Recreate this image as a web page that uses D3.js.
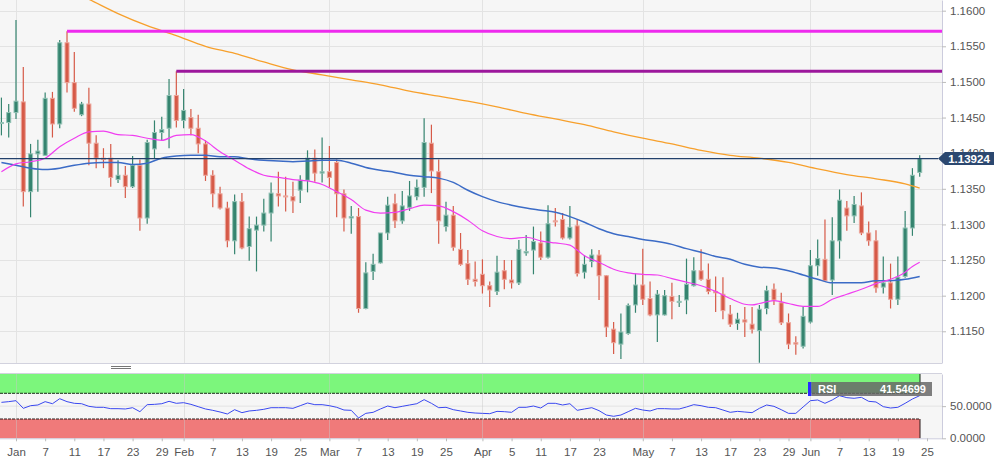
<!DOCTYPE html>
<html lang="en">
<head>
<meta charset="UTF-8">
<title>EUR/USD daily</title>
<script src="https://d3js.org/d3.v7.min.js"></script>
<style>
  body { margin: 0; background: #fff; font-family: "Liberation Sans", Arial, sans-serif; }
  svg { display: block; }
  .axis text { fill: #555; font-size: 11.5px; font-family: "Liberation Sans", Arial, sans-serif; }
  .axis line { stroke: #bbb; }
  .axis path { stroke: #ccd; }
</style>
</head>
<body>
<svg id="chart" width="1002" height="463"></svg>
<script>
// bar index 0 = 1 Jan, trading days only
const firstBar = -2;

// [open, high, low, close]
const candles = [
  [1.1442,1.1478,1.1425,1.1443],[1.1443,1.1469,1.1422,1.1457],[1.1457,1.1587,1.1448,1.1473],
  [1.1472,1.1521,1.1325,1.1346],[1.1346,1.1413,1.1310,1.1399],[1.1399,1.1419,1.1346,1.1403],
  [1.1397,1.1485,1.1397,1.1477],[1.1477,1.1486,1.1422,1.1441],[1.1441,1.1559,1.1435,1.1555],
  [1.1555,1.1571,1.1485,1.1499],[1.1499,1.1542,1.1458,1.1463],[1.1454,1.1472,1.1452,1.1469],
  [1.1469,1.1492,1.1383,1.1414],[1.1414,1.1425,1.1379,1.1393],[1.1393,1.1407,1.1379,1.1391],
  [1.1393,1.1413,1.1353,1.1366],[1.1363,1.1390,1.1358,1.1369],[1.1369,1.1382,1.1337,1.1353],
  [1.1353,1.1396,1.1351,1.1383],[1.1383,1.1391,1.1291,1.1309],[1.1309,1.1419,1.1301,1.1415],
  [1.1406,1.1446,1.1393,1.1429],[1.1429,1.1451,1.1418,1.1433],[1.1435,1.1504,1.1407,1.1481],
  [1.1481,1.1515,1.1436,1.1446],[1.1446,1.1490,1.1435,1.1460],[1.1450,1.1462,1.1425,1.1435],
  [1.1435,1.1454,1.1400,1.1413],[1.1413,1.1418,1.1361,1.1369],[1.1369,1.1376,1.1324,1.1343],
  [1.1343,1.1353,1.1321,1.1323],[1.1323,1.1332,1.1268,1.1277],[1.1277,1.1342,1.1258,1.1332],
  [1.1332,1.1344,1.1265,1.1267],[1.1269,1.1311,1.1249,1.1294],[1.1292,1.1311,1.1234,1.1299],
  [1.1299,1.1336,1.1290,1.1316],[1.1316,1.1359,1.1276,1.1344],[1.1343,1.1374,1.1325,1.1340],
  [1.1340,1.1367,1.1318,1.1339],[1.1339,1.1360,1.1316,1.1333],[1.1348,1.1369,1.1330,1.1362],
  [1.1362,1.1404,1.1345,1.1393],[1.1393,1.1405,1.1360,1.1372],[1.1372,1.1422,1.1359,1.1374],
  [1.1374,1.1410,1.1352,1.1366],[1.1387,1.1391,1.1310,1.1343],[1.1343,1.1349,1.1290,1.1309],
  [1.1309,1.1326,1.1287,1.1311],[1.1311,1.1323,1.1176,1.1182],[1.1182,1.1247,1.1181,1.1232],
  [1.1234,1.1259,1.1222,1.1244],[1.1246,1.1288,1.1245,1.1288],[1.1288,1.1339,1.1278,1.1327],
  [1.1329,1.1343,1.1295,1.1305],[1.1305,1.1347,1.1301,1.1326],[1.1324,1.1361,1.1319,1.1340],
  [1.1339,1.1363,1.1334,1.1352],[1.1352,1.1449,1.1339,1.1415],[1.1414,1.1440,1.1344,1.1375],
  [1.1374,1.1391,1.1273,1.1305],[1.1297,1.1332,1.1290,1.1313],[1.1313,1.1326,1.1263,1.1268],
  [1.1265,1.1288,1.1242,1.1244],[1.1245,1.1264,1.1215,1.1223],[1.1223,1.1248,1.1213,1.1220],
  [1.1230,1.1251,1.1203,1.1214],[1.1214,1.1220,1.1184,1.1208],[1.1206,1.1256,1.1201,1.1233],
  [1.1235,1.1250,1.1209,1.1223],[1.1222,1.1250,1.1210,1.1218],[1.1218,1.1278,1.1215,1.1265],
  [1.1260,1.1285,1.1256,1.1262],[1.1264,1.1297,1.1230,1.1276],[1.1274,1.1290,1.1250,1.1254],
  [1.1254,1.1327,1.1252,1.1301],[1.1305,1.1323,1.1297,1.1304],[1.1307,1.1316,1.1279,1.1281],
  [1.1281,1.1326,1.1279,1.1296],[1.1298,1.1307,1.1227,1.1231],[1.1233,1.1257,1.1224,1.1244],
  [1.1248,1.1265,1.1240,1.1257],[1.1257,1.1264,1.1194,1.1228],[1.1228,1.1229,1.1142,1.1156],
  [1.1153,1.1163,1.1118,1.1134],[1.1132,1.1175,1.1111,1.1149],[1.1147,1.1189,1.1145,1.1186],
  [1.1187,1.1231,1.1176,1.1215],[1.1215,1.1266,1.1187,1.1195],[1.1196,1.1220,1.1171,1.1173],
  [1.1173,1.1208,1.1135,1.1202],[1.1173,1.1208,1.1172,1.1200],[1.1199,1.1218,1.1167,1.1192],
  [1.1191,1.1201,1.1184,1.1192],[1.1194,1.1252,1.1174,1.1216],[1.1214,1.1254,1.1213,1.1235],
  [1.1235,1.1265,1.1221,1.1223],[1.1223,1.1245,1.1202,1.1206],[1.1206,1.1227,1.1177,1.1204],
  [1.1202,1.1226,1.1167,1.1179],[1.1174,1.1187,1.1156,1.1160],[1.1161,1.1176,1.1152,1.1167],
  [1.1166,1.1184,1.1142,1.1163],[1.1160,1.1184,1.1147,1.1153],[1.1151,1.1187,1.1106,1.1181],
  [1.1182,1.1214,1.1174,1.1207],[1.1209,1.1217,1.1187,1.1194],[1.1190,1.1204,1.1159,1.1162],
  [1.1162,1.1175,1.1125,1.1132],[1.1134,1.1143,1.1117,1.1132],[1.1129,1.1184,1.1126,1.1171],
  [1.1163,1.1264,1.1161,1.1242],[1.1242,1.1279,1.1228,1.1252],[1.1251,1.1307,1.1220,1.1221],
  [1.1222,1.1310,1.1201,1.1277],[1.1277,1.1349,1.1252,1.1334],[1.1323,1.1333,1.1291,1.1312],
  [1.1312,1.1340,1.1302,1.1328],[1.1326,1.1345,1.1285,1.1288],[1.1288,1.1304,1.1270,1.1277],
  [1.1277,1.1292,1.1204,1.1211],[1.1212,1.1255,1.1203,1.1218],[1.1218,1.1245,1.1182,1.1195],
  [1.1195,1.1255,1.1187,1.1226],[1.1227,1.1319,1.1225,1.1295],[1.1295,1.1379,1.1284,1.1369],
  [1.1373,1.1397,1.1367,1.13924]
];

// moving averages, [bar index, value]
const sma200 = [[-2,1.1671],[4,1.1644],[10,1.1616],[14,1.1596],[18,1.1579],[22,1.1565],[26,1.1550],
  [30,1.1540],[34,1.1528],[38,1.1517],[42,1.1510],[46,1.1503],[50,1.1496],[54,1.1487],[58,1.1480],
  [62,1.1473],[66,1.1465],[70,1.1456],[74,1.1448],[78,1.1440],[82,1.1430],[86,1.1421],[90,1.1413],
  [94,1.1404],[98,1.1397],[102,1.1393],[106,1.1387],[110,1.1378],[114,1.1370],[118,1.1364],
  [122,1.1357],[124,1.1351]];

const sma20 = [[-2,1.1374],[0,1.1385],[2,1.1388],[4,1.1393],[6,1.1409],[8,1.1421],[10,1.1430],
  [12,1.1431],[14,1.1426],[16,1.1425],[18,1.1421],[20,1.1418],[22,1.1425],[24,1.1426],[26,1.1417],
  [28,1.1402],[30,1.1390],[32,1.1378],[34,1.1369],[36,1.1366],[38,1.1363],[40,1.1361],[42,1.1356],
  [44,1.1346],[46,1.1335],[48,1.1320],[50,1.1316],[52,1.1317],[54,1.1322],[56,1.1327],[58,1.1326],
  [60,1.1318],[62,1.1306],[64,1.1291],[66,1.1283],[68,1.1280],[70,1.1282],[72,1.1277],[74,1.1274],
  [76,1.1271],[77,1.1264],[78,1.1256],[80,1.1247],[82,1.1237],[84,1.1232],[86,1.1230],[88,1.1229],
  [90,1.1224],[92,1.1219],[94,1.1214],[96,1.1206],[98,1.1196],[100,1.1188],[101,1.1187],[102,1.1189],
  [104,1.1193],[106,1.1189],[108,1.1185],[110,1.1185],[112,1.1195],[114,1.1202],[116,1.1209],
  [118,1.1217],[120,1.1223],[122,1.1233],[123,1.1241],[124,1.1247]];

const sma50 = [[-2,1.1387],[0,1.1383],[2,1.1379],[4,1.1377],[6,1.1379],[8,1.1383],[10,1.1386],
  [12,1.1387],[14,1.1387],[16,1.1384],[18,1.1386],[20,1.1393],[22,1.1396],[24,1.1397],[26,1.1397],
  [28,1.1395],[30,1.1395],[32,1.1392],[34,1.1390],[36,1.1389],[38,1.1388],[40,1.1389],[42,1.1390],
  [44,1.1390],[46,1.1386],[48,1.1380],[50,1.1376],[52,1.1373],[54,1.1369],[56,1.1367],[58,1.1365],
  [60,1.1359],[62,1.1348],[64,1.1339],[66,1.1332],[68,1.1327],[70,1.1323],[72,1.1320],[74,1.1317],
  [76,1.1311],[78,1.1303],[80,1.1294],[82,1.1287],[84,1.1283],[86,1.1279],[88,1.1276],[90,1.1272],
  [92,1.1266],[94,1.1261],[96,1.1255],[98,1.1251],[100,1.1244],[102,1.1240],[104,1.1239],[106,1.1235],
  [108,1.1229],[110,1.1223],[112,1.1218],[114,1.1218],[116,1.1218],[118,1.1221],[120,1.1221],
  [122,1.1223],[124,1.1227]];

// horizontal levels: [start bar, price, colour]
const levels = [[7, 1.1571, '#ee2bee'], [22, 1.1515, '#9c179c']];

const lastPrice = 1.13924;
const rsiLabel = '41.54699';

// RSI(14), one per bar from firstBar
const rsi = [55.9,57.0,58.5,46.6,50.7,51.8,57.0,53.8,61.6,57.0,
  54.4,53.8,49.7,48.2,48.2,46.1,46.1,45.6,47.6,41.4,
  52.3,52.8,53.8,57.5,54.4,55.4,52.8,49.2,45.6,43.5,
  40.9,37.8,44.5,39.9,42.5,43.5,45.1,47.6,47.6,47.6,
  46.6,50.7,54.9,52.3,52.3,50.7,48.2,44.0,43.5,31.6,
  38.8,40.4,45.6,50.2,47.6,49.7,51.8,53.8,60.1,54.4,
  47.6,48.2,44.5,42.5,40.4,39.3,38.8,38.3,41.9,41.4,
  40.4,48.2,48.2,50.2,47.1,54.4,54.4,51.8,53.8,43.5,
  45.6,47.6,43.0,36.2,34.2,36.2,41.4,46.6,44.0,42.5,
  46.1,46.1,45.6,45.6,48.7,52.3,50.7,48.2,47.6,44.0,
  40.4,41.9,40.9,39.9,46.6,51.8,49.7,44.5,38.8,38.8,
  48.7,58.5,59.6,54.4,59.6,66.3,63.2,62.2,63.7,57.5,
  56.5,49.2,47.1,48.2,54.4,61.1,66.3];

const priceTicks = [1.1150,1.1200,1.1250,1.1300,1.1350,1.1400,1.1450,1.1500,1.1550,1.1600];
const rsiTicks = [0, 50];
const dateTickBars = [0,4,8,12,16,20,23,27,31,35,39,43,47,51,55,59,64,68,72,76,80,86,90,94,98,102,106,109,113,117,121,125];
const dateTickLabels = ['Jan','7','11','17','23','29','Feb','7','13','19','25','Mar','7','13','19','25','Apr','5','11','17','23','May','7','13','17','23','29','Jun','7','13','19','25'];
const monthBars = [0, 23, 43, 64, 86, 109];

// layout
const plotRight = 942, mainTop = 0, mainBottom = 363, rsiTop = 374, rsiBottom = 438.3;
const bandEnd = 920;
const upColor = '#35846f', downColor = '#d65a48';
const upEdge = '#93c2b5', downEdge = '#eca79c';

const svg = d3.select('#chart');

const x = d3.scaleLinear().domain([0, 125]).range([16, 927]);
const y = d3.scaleLinear().domain([1.11055, 1.1615]).range([mainBottom, mainTop]);
const yR = d3.scaleLinear().domain([0, 100]).range([rsiBottom, rsiTop]);

const defs = svg.append('defs');
defs.append('clipPath').attr('id', 'clip-main')
  .append('rect').attr('x', 0).attr('y', mainTop).attr('width', plotRight).attr('height', mainBottom - mainTop);

// ---- main panel ----
svg.append('rect').attr('x', 0).attr('y', mainTop).attr('width', plotRight).attr('height', mainBottom - mainTop)
  .attr('fill', '#f6f6f6');

svg.append('g').selectAll('line').data(priceTicks).join('line')
  .attr('x1', 0).attr('x2', plotRight)
  .attr('y1', d => Math.round(y(d)) + 0.5).attr('y2', d => Math.round(y(d)) + 0.5)
  .attr('stroke', '#e3e3e3').attr('stroke-width', 1);

svg.append('g').selectAll('line').data(monthBars).join('line')
  .attr('x1', d => Math.round(x(d)) + 0.5).attr('x2', d => Math.round(x(d)) + 0.5)
  .attr('y1', mainTop).attr('y2', mainBottom)
  .attr('stroke', '#e3e3e3').attr('stroke-width', 1);

const bars = candles.map((c, k) => ({ i: firstBar + k, o: c[0], h: c[1], l: c[2], c: c[3] }));

const main = svg.append('g').attr('clip-path', 'url(#clip-main)');

main.append('g').selectAll('line').data(bars).join('line')
  .attr('x1', d => x(d.i)).attr('x2', d => x(d.i))
  .attr('y1', d => y(d.h)).attr('y2', d => y(d.l))
  .attr('stroke', d => d.c >= d.o ? upColor : downColor)
  .attr('stroke-width', 1.2);

main.append('g').selectAll('rect').data(bars).join('rect')
  .attr('x', d => x(d.i) - 2)
  .attr('width', 4)
  .attr('y', d => y(Math.max(d.o, d.c)))
  .attr('height', d => Math.max(1, Math.abs(y(d.o) - y(d.c))))
  .attr('fill', d => d.c >= d.o ? upColor : downColor)
  .attr('stroke', d => d.c >= d.o ? upEdge : downEdge)
  .attr('stroke-width', 1);

const maLine = d3.line().x(d => x(d[0])).y(d => y(d[1])).curve(d3.curveMonotoneX);

main.append('path').datum(sma200).attr('d', maLine)
  .attr('fill', 'none').attr('stroke', '#f7a02c').attr('stroke-width', 1.3);
main.append('path').datum(sma50).attr('d', maLine)
  .attr('fill', 'none').attr('stroke', '#3b6bc6').attr('stroke-width', 1.5);
main.append('path').datum(sma20).attr('d', maLine)
  .attr('fill', 'none').attr('stroke', '#f03ef0').attr('stroke-width', 1.2);

main.append('g').selectAll('line').data(levels).join('line')
  .attr('x1', d => x(d[0])).attr('x2', plotRight)
  .attr('y1', d => y(d[1])).attr('y2', d => y(d[1]))
  .attr('stroke', d => d[2]).attr('stroke-width', 3);

// last price line
svg.append('line')
  .attr('x1', 0).attr('x2', 938)
  .attr('y1', y(lastPrice)).attr('y2', y(lastPrice))
  .attr('stroke', '#22406b').attr('stroke-width', 1.4);

// right price axis
svg.append('g').attr('class', 'axis')
  .attr('transform', `translate(${plotRight},0)`)
  .call(d3.axisRight(y).tickValues(priceTicks).tickFormat(d3.format('.4f')).tickSize(4).tickSizeOuter(0).tickPadding(4))
  .call(g => g.select('.domain').attr('stroke', '#ccc'));

// last price tag
const ly = y(lastPrice);
svg.append('path')
  .attr('d', `M938,${ly} L945,${ly - 6.5} L994,${ly - 6.5} L994,${ly + 6.5} L945,${ly + 6.5} Z`)
  .attr('fill', '#2c4870');
svg.append('text')
  .attr('x', 969).attr('y', ly).attr('dy', '0.36em')
  .attr('text-anchor', 'middle')
  .attr('fill', '#fff').attr('font-size', 11.5).attr('font-weight', 'bold')
  .attr('font-family', '"Liberation Sans", Arial, sans-serif')
  .text(lastPrice.toFixed(5));

// panel borders
svg.append('line').attr('x1', 0).attr('x2', plotRight).attr('y1', mainBottom + 0.5).attr('y2', mainBottom + 0.5)
  .attr('stroke', '#d2d2de');

// resize handle
svg.append('g').selectAll('line').data([366.5, 368.5]).join('line')
  .attr('x1', 111).attr('x2', 131).attr('y1', d => d).attr('y2', d => d)
  .attr('stroke', '#777').attr('stroke-width', 1);

// ---- RSI panel ----
svg.append('rect').attr('x', 0).attr('y', rsiTop).attr('width', plotRight).attr('height', rsiBottom - rsiTop)
  .attr('fill', '#f6f6f6');

svg.append('rect').attr('x', 0).attr('y', yR(100)).attr('width', bandEnd).attr('height', yR(70) - yR(100))
  .attr('fill', '#7cf67c');
svg.append('rect').attr('x', 0).attr('y', yR(30)).attr('width', bandEnd).attr('height', yR(0) - yR(30))
  .attr('fill', '#f07a7a');

svg.append('line').attr('x1', 0).attr('x2', bandEnd).attr('y1', yR(70)).attr('y2', yR(70))
  .attr('stroke', '#1a2a1a').attr('stroke-width', 1).attr('stroke-dasharray', '3,1');
svg.append('line').attr('x1', 0).attr('x2', bandEnd).attr('y1', yR(30)).attr('y2', yR(30))
  .attr('stroke', '#2a1a1a').attr('stroke-width', 1).attr('stroke-dasharray', '3,1');
svg.append('line').attr('x1', bandEnd).attr('x2', bandEnd).attr('y1', yR(100)).attr('y2', yR(70))
  .attr('stroke', '#1a2a1a');
svg.append('line').attr('x1', bandEnd).attr('x2', bandEnd).attr('y1', yR(30)).attr('y2', yR(0))
  .attr('stroke', '#2a1a1a');

svg.append('line').attr('x1', 0).attr('x2', plotRight).attr('y1', yR(50)).attr('y2', yR(50))
  .attr('stroke', '#e3e3e3');

svg.append('g').selectAll('line').data(monthBars).join('line')
  .attr('x1', d => Math.round(x(d)) + 0.5).attr('x2', d => Math.round(x(d)) + 0.5)
  .attr('y1', rsiTop).attr('y2', rsiBottom)
  .attr('stroke', 'rgba(200,200,200,0.45)').attr('stroke-width', 1);

const rsiLine = d3.line().x((d, k) => x(firstBar + k)).y(d => yR(d));
svg.append('path').datum(rsi).attr('d', rsiLine)
  .attr('fill', 'none').attr('stroke', '#3a48f0').attr('stroke-width', 1);

svg.append('line').attr('x1', 0).attr('x2', plotRight).attr('y1', rsiTop - 0.5).attr('y2', rsiTop - 0.5)
  .attr('stroke', '#d2d2de');

svg.append('g').attr('class', 'axis')
  .attr('transform', `translate(${plotRight},0)`)
  .call(d3.axisRight(yR).tickValues(rsiTicks).tickFormat(d3.format('.4f')).tickSize(4).tickSizeOuter(0).tickPadding(4))
  .call(g => g.select('.domain').attr('stroke', '#ccd'));

// RSI tag
svg.append('rect').attr('x', 808).attr('y', 382).attr('width', 3.5).attr('height', 14).attr('fill', '#2a2aff');
svg.append('rect').attr('x', 811.5).attr('y', 382).attr('width', 120.5).attr('height', 14)
  .attr('fill', 'rgba(105,105,105,0.85)');
svg.append('text').attr('x', 818).attr('y', 389).attr('dy', '0.36em')
  .attr('fill', '#fff').attr('font-size', 11).attr('font-weight', 'bold')
  .attr('font-family', '"Liberation Sans", Arial, sans-serif')
  .text('RSI');
svg.append('text').attr('x', 926).attr('y', 389).attr('dy', '0.36em').attr('text-anchor', 'end')
  .attr('fill', '#fff').attr('font-size', 11).attr('font-weight', 'bold')
  .attr('font-family', '"Liberation Sans", Arial, sans-serif')
  .text(rsiLabel);

// date axis
svg.append('g').attr('class', 'axis')
  .attr('transform', `translate(0,${rsiBottom})`)
  .call(d3.axisBottom(x).tickValues(dateTickBars)
    .tickFormat((d, k) => dateTickLabels[k]).tickSize(3).tickSizeOuter(0).tickPadding(7))
  .call(g => g.select('.domain').attr('d', `M0,0.5H${plotRight}`).attr('stroke', '#ccd'));
</script>
</body>
</html>
